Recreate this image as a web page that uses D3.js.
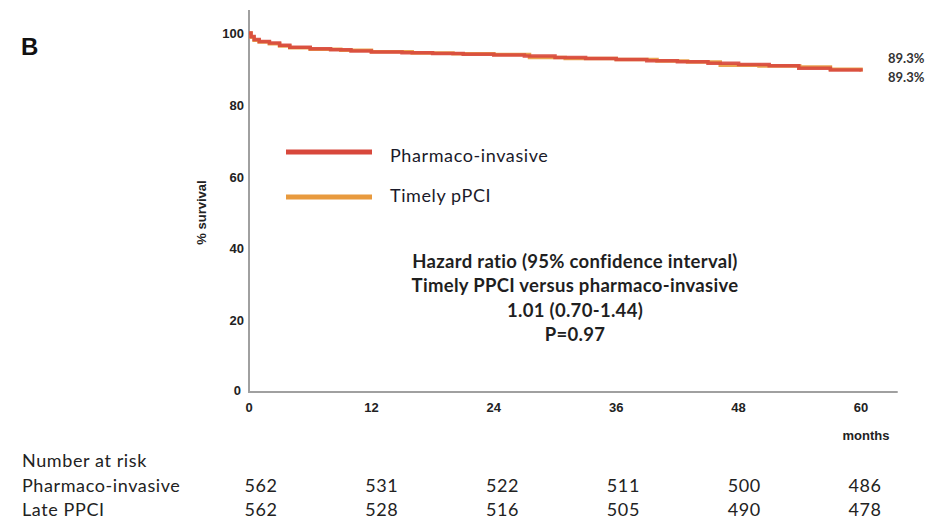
<!DOCTYPE html>
<html>
<head>
<meta charset="utf-8">
<script src="https://cdn.jsdelivr.net/npm/d3@7"></script>
<style>
  html, body { margin: 0; padding: 0; background: #fff; }
  svg { display: block; }
</style>
</head>
<body>
<svg id="chart" width="929" height="521"></svg>
<script>
// Kaplan–Meier survival, months since index event
const pharmacoTimes    = [0, 0.2, 0.5, 1, 2, 3, 4, 6, 8, 10, 12, 15, 18, 21, 24, 27, 30, 33, 36, 39, 42, 45, 48, 51, 53.9, 57, 60];
const pharmacoSurvival = [100, 99.0, 98.2, 97.6, 97.2, 96.6, 96.0, 95.6, 95.3, 95.0, 94.7, 94.5, 94.3, 94.1, 93.9, 93.6, 93.2, 92.9, 92.6, 92.3, 92.0, 91.6, 91.2, 90.9, 90.2, 89.7, 89.3];

const timelyTimes    = [0, 0.2, 0.5, 1, 2, 3, 4, 6, 9, 12, 16, 20, 24, 27.5, 31, 36, 40, 43, 46.2, 50, 54, 57, 60];
const timelySurvival = [100, 98.8, 98.0, 97.5, 97.0, 96.4, 95.9, 95.5, 95.2, 94.8, 94.4, 94.2, 94.0, 93.2, 92.9, 92.6, 92.2, 91.9, 91.0, 90.8, 90.5, 89.9, 89.3];

const seriesNames  = ["Pharmaco-invasive", "Timely pPCI"];
const finalLabels  = ["89.3%", "89.3%"];

const xTicks = [0, 12, 24, 36, 48, 60];
const yTicks = [0, 20, 40, 60, 80, 100];

const riskGroups = ["Pharmaco-invasive", "Late PPCI"];
const riskPharmaco = [562, 531, 522, 511, 500, 486];
const riskLate     = [562, 528, 516, 505, 490, 478];

const hrLines = [
  "Hazard ratio (95% confidence interval)",
  "Timely PPCI versus pharmaco-invasive",
  "1.01 (0.70-1.44)",
  "P=0.97"
];

const colors = { red: "#d8483c", orange: "#e89a3e", axis: "#a0a0a0", text: "#1f1f1f" };

const svg = d3.select("#chart");

const x = d3.scaleLinear().domain([0, 60]).range([249, 861]);
const y = d3.scaleLinear().domain([0, 100]).range([392, 33]);

const tickFont = "Liberation Sans, Arial, sans-serif";
const bodyFont = "Lato, Open Sans, sans-serif";

// Panel letter
svg.append("text").attr("x", 21).attr("y", 55)
  .attr("font-family", tickFont)
  .attr("font-size", 24).attr("font-weight", "bold").attr("fill", "#111")
  .text("B");

// Axes lines
svg.append("line").attr("x1", x(0)).attr("x2", x(0)).attr("y1", y(0)).attr("y2", 10)
  .attr("stroke", colors.axis).attr("stroke-width", 2);
svg.append("line").attr("x1", x(0) - 1).attr("x2", x(63.6)).attr("y1", y(0)).attr("y2", y(0))
  .attr("stroke", colors.axis).attr("stroke-width", 2);

// Y tick labels
svg.append("g").selectAll("text").data(yTicks).join("text")
  .attr("x", d => d === 0 ? 241 : 244)
  .attr("y", d => y(d) + (d === 0 ? 3 : 5))
  .attr("text-anchor", "end")
  .attr("font-family", tickFont).attr("font-size", 13).attr("font-weight", "bold")
  .attr("fill", "#222")
  .text(d => d);

// X tick labels
svg.append("g").selectAll("text").data(xTicks).join("text")
  .attr("x", d => x(d))
  .attr("y", 412)
  .attr("text-anchor", "middle")
  .attr("font-family", tickFont).attr("font-size", 13).attr("font-weight", "bold")
  .attr("fill", "#222")
  .text(d => d);

// Axis titles
svg.append("text")
  .attr("transform", `translate(206,${y(50)}) rotate(-90)`)
  .attr("text-anchor", "middle")
  .attr("font-family", tickFont).attr("font-size", 13).attr("font-weight", "bold")
  .attr("fill", "#222")
  .text("% survival");
svg.append("text").attr("x", 866).attr("y", 440).attr("text-anchor", "middle")
  .attr("font-family", tickFont).attr("font-size", 13).attr("font-weight", "bold")
  .attr("fill", "#222")
  .text("months");

// Survival curves
const line = d3.line().curve(d3.curveStepAfter).x(d => x(d[0])).y(d => y(d[1]));
const series = [
  { name: seriesNames[1], color: colors.orange, pts: d3.zip(timelyTimes, timelySurvival) },
  { name: seriesNames[0], color: colors.red, pts: d3.zip(pharmacoTimes, pharmacoSurvival) }
];
svg.append("g").selectAll("path").data(series).join("path")
  .attr("d", d => line(d.pts))
  .attr("fill", "none")
  .attr("stroke", d => d.color)
  .attr("stroke-width", 3.5)
  .attr("stroke-opacity", 0.9);

// Final survival labels
svg.append("g").selectAll("text").data(finalLabels).join("text")
  .attr("x", 888)
  .attr("y", (d, i) => 63 + i * 19)
  .attr("font-family", bodyFont).attr("font-size", 13).attr("font-weight", "bold")
  .attr("fill", "#333")
  .text(d => d);

// Legend
const legend = svg.append("g");
const legendColors = [colors.red, colors.orange];
const legendLineY = [152, 197];
const legendTextY = [162, 202];
seriesNames.forEach((name, i) => {
  legend.append("line").attr("x1", 286).attr("x2", 372)
    .attr("y1", legendLineY[i]).attr("y2", legendLineY[i])
    .attr("stroke", legendColors[i]).attr("stroke-width", 5);
  legend.append("text").attr("x", 390).attr("y", legendTextY[i])
    .attr("font-family", bodyFont).attr("font-size", 18).attr("letter-spacing", 0.6)
    .attr("fill", "#1a1a2a")
    .text(name);
});

// Hazard ratio annotation
svg.append("g").selectAll("text").data(hrLines).join("text")
  .attr("x", 575)
  .attr("y", (d, i) => 268 + i * 24.4)
  .attr("text-anchor", "middle")
  .attr("font-family", bodyFont).attr("font-size", 18.5).attr("font-weight", "bold")
  .attr("letter-spacing", 0.3)
  .attr("fill", "#1f1f1f")
  .text(d => d);

// Number at risk table
const riskX = d3.scaleLinear().domain([0, 60]).range([261, 865]);
svg.append("text").attr("x", 22).attr("y", 467)
  .attr("font-family", bodyFont).attr("font-size", 18).attr("letter-spacing", 0.6).attr("fill", "#222")
  .text("Number at risk");
[riskPharmaco, riskLate].forEach((row, r) => {
  const ry = 492 + r * 24;
  svg.append("text").attr("x", 22).attr("y", ry)
    .attr("font-family", bodyFont).attr("font-size", 18).attr("letter-spacing", 0.6).attr("fill", "#222")
    .text(riskGroups[r]);
  svg.append("g").selectAll("text").data(row).join("text")
    .attr("x", (d, i) => riskX(xTicks[i]))
    .attr("y", ry)
    .attr("text-anchor", "middle")
    .attr("font-family", bodyFont).attr("font-size", 18).attr("letter-spacing", 0.6).attr("fill", "#222")
    .text(d => d);
});
</script>
</body>
</html>
